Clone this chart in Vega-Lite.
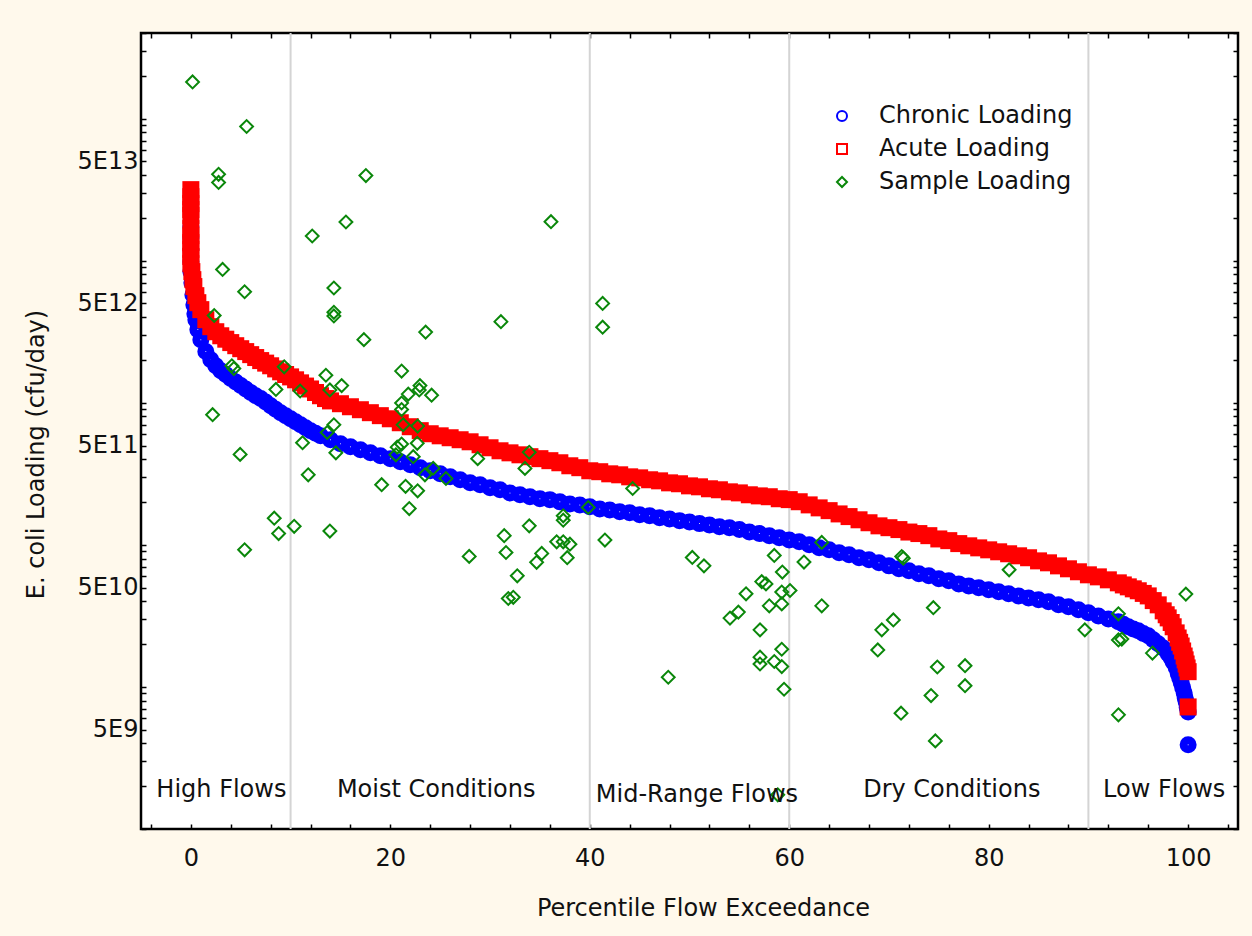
{
  "$schema": "https://vega.github.io/schema/vega-lite/v6.json",
  "width": 1097,
  "height": 796,
  "autosize": {"type": "none"},
  "padding": {"left": 141, "top": 33, "right": 14, "bottom": 107},
  "background": "#FFF9EC",
  "config": {
    "view": {"stroke": "black", "strokeWidth": 2.5, "fill": "white"},
    "font": "DejaVu Sans",
    "axis": {
      "domain": false, "grid": false, "tickColor": "black", "tickWidth": 1.5, "tickSize": -5,
      "labelFont": "DejaVu Sans", "labelFontSize": 24, "labelColor": "#111111",
      "titleFont": "DejaVu Sans", "titleFontSize": 24, "titleFontWeight": "normal", "titleColor": "#111111",
      "labelOverlap": false, "labelFlush": false, "labelLimit": 0
    },
    "legend": {
      "labelFont": "DejaVu Sans", "labelFontSize": 24, "labelColor": "#111111", "labelLimit": 0
    }
  },
  "datasets": {
    "grid": [{"p": 10}, {"p": 40}, {"p": 60}, {"p": 90}],
    "chronic": [
      {"p":0,"v":1.74e13},{"p":0,"v":1.45e13},{"p":0,"v":1.2e13},{"p":0,"v":9.84e12},{"p":0,"v":8.37e12},
      {"p":0.1,"v":7.0e12},{"p":0.2,"v":5.76e12},{"p":0.3,"v":4.9e12},{"p":0.4,"v":4.23e12},{"p":0.5,"v":3.84e12},
      {"p":0.7,"v":3.27e12},{"p":1,"v":2.78e12},{"p":1.5,"v":2.29e12},{"p":2,"v":2.01e12},{"p":2.5,"v":1.82e12},
      {"p":3,"v":1.68e12},{"p":3.5,"v":1.58e12},{"p":4,"v":1.48e12},{"p":4.5,"v":1.4e12},{"p":5,"v":1.32e12},{"p":5.5,"v":1.25e12},{"p":6,"v":1.18e12},{"p":6.5,"v":1.12e12},{"p":7,"v":1.07e12},
      {"p":7.5,"v":1.01e12},{"p":8,"v":9.52e11},{"p":8.5,"v":9.0e11},{"p":9,"v":8.51e11},{"p":9.5,"v":8.1e11},{"p":10,"v":7.71e11},{"p":10.5,"v":7.35e11},{"p":11,"v":7.0e11},{"p":11.5,"v":6.67e11},{"p":12,"v":6.36e11},
      {"p":12.5,"v":6.1e11},{"p":13,"v":5.85e11},{"p":14,"v":5.49e11},{"p":15,"v":5.14e11},{"p":16,"v":4.9e11},{"p":17,"v":4.67e11},
      {"p":18,"v":4.44e11},{"p":19,"v":4.23e11},{"p":20,"v":4.04e11},{"p":21,"v":3.84e11},{"p":22,"v":3.66e11},
      {"p":23,"v":3.49e11},{"p":24,"v":3.32e11},{"p":25,"v":3.16e11},{"p":26,"v":3.01e11},{"p":27,"v":2.87e11},
      {"p":28,"v":2.73e11},{"p":29,"v":2.65e11},{"p":30,"v":2.52e11},{"p":31,"v":2.44e11},{"p":32,"v":2.32e11},
      {"p":33,"v":2.25e11},{"p":34,"v":2.18e11},{"p":35,"v":2.11e11},{"p":36,"v":2.08e11},{"p":37,"v":2.01e11},
      {"p":38,"v":1.94e11},{"p":39,"v":1.91e11},{"p":40,"v":1.85e11},{"p":41,"v":1.79e11},{"p":42,"v":1.76e11},
      {"p":43,"v":1.71e11},{"p":44,"v":1.68e11},{"p":45,"v":1.63e11},{"p":46,"v":1.6e11},{"p":47,"v":1.55e11},
      {"p":48,"v":1.52e11},{"p":49,"v":1.48e11},{"p":50,"v":1.45e11},{"p":51,"v":1.41e11},{"p":52,"v":1.38e11},
      {"p":53,"v":1.34e11},{"p":54,"v":1.32e11},{"p":55,"v":1.28e11},{"p":56,"v":1.23e11},{"p":57,"v":1.2e11},
      {"p":58,"v":1.16e11},{"p":59,"v":1.12e11},{"p":60,"v":1.08e11},{"p":61,"v":1.05e11},{"p":62,"v":1.0e11},
      {"p":63,"v":9.52e10},{"p":64,"v":9.22e10},{"p":65,"v":8.79e10},{"p":66,"v":8.51e10},{"p":67,"v":8.11e10},
      {"p":68,"v":7.85e10},{"p":69,"v":7.47e10},{"p":70,"v":7.11e10},{"p":71,"v":6.78e10},{"p":72,"v":6.57e10},
      {"p":73,"v":6.25e10},{"p":74,"v":6.05e10},{"p":75,"v":5.76e10},{"p":76,"v":5.58e10},{"p":77,"v":5.31e10},
      {"p":78,"v":5.14e10},{"p":79,"v":4.98e10},{"p":80,"v":4.82e10},{"p":81,"v":4.67e10},{"p":82,"v":4.52e10},
      {"p":83,"v":4.37e10},{"p":84,"v":4.23e10},{"p":85,"v":4.1e10},{"p":86,"v":3.97e10},{"p":87,"v":3.78e10},
      {"p":88,"v":3.66e10},{"p":89,"v":3.49e10},{"p":90,"v":3.32e10},{"p":91,"v":3.16e10},{"p":92,"v":3.01e10},
      {"p":93,"v":2.87e10},{"p":93.5,"v":2.76e10},{"p":94,"v":2.65e10},{"p":94.5,"v":2.56e10},{"p":95,"v":2.48e10},{"p":95.5,"v":2.38e10},{"p":96,"v":2.29e10},{"p":96.5,"v":2.15e10},{"p":97,"v":2.01e10},
      {"p":97.5,"v":1.88e10},{"p":98,"v":1.71e10},{"p":98.3,"v":1.6e10},{"p":98.5,"v":1.5e10},{"p":98.8,"v":1.37e10},{"p":99,"v":1.25e10},{"p":99.15,"v":1.16e10},{"p":99.3,"v":1.08e10},{"p":99.45,"v":9.9e9},
      {"p":99.6,"v":9.08e9},{"p":99.7,"v":8.4e9},{"p":99.8,"v":7.85e9},{"p":99.9,"v":7.2e9},{"p":100,"v":6.67e9},{"p":100,"v":3.91e9}
    ],
    "acute": [
      {"p":0,"v":3.16e13},{"p":0,"v":2.82e13},{"p":0,"v":2.52e13},{"p":0,"v":2.29e13},{"p":0,"v":2.08e13},
      {"p":0,"v":1.68e13},{"p":0,"v":1.5e13},{"p":0,"v":1.34e13},{"p":0,"v":1.2e13},{"p":0,"v":1.07e13},{"p":0,"v":9.52e12},
      {"p":0.1,"v":8.37e12},{"p":0.2,"v":7.35e12},{"p":0.3,"v":6.57e12},{"p":0.5,"v":5.67e12},{"p":0.7,"v":5.06e12},
      {"p":1,"v":4.52e12},{"p":1.5,"v":3.84e12},{"p":2,"v":3.43e12},{"p":2.5,"v":3.16e12},{"p":3,"v":2.96e12},
      {"p":3.5,"v":2.8e12},{"p":4,"v":2.65e12},{"p":4.5,"v":2.52e12},{"p":5,"v":2.4e12},{"p":5.5,"v":2.29e12},{"p":6,"v":2.18e12},{"p":6.5,"v":2.08e12},{"p":7,"v":1.98e12},{"p":7.5,"v":1.9e12},{"p":8,"v":1.82e12},
      {"p":8.5,"v":1.73e12},{"p":9,"v":1.65e12},{"p":9.5,"v":1.58e12},{"p":10,"v":1.52e12},{"p":10.5,"v":1.45e12},{"p":11,"v":1.38e12},{"p":11.5,"v":1.31e12},{"p":12,"v":1.25e12},{"p":12.5,"v":1.18e12},{"p":13,"v":1.12e12},
      {"p":13.5,"v":1.07e12},{"p":14,"v":1.03e12},{"p":15,"v":9.84e11},{"p":16,"v":9.37e11},{"p":17,"v":8.93e11},{"p":18,"v":8.51e11},
      {"p":19,"v":8.11e11},{"p":20,"v":7.71e11},{"p":21,"v":7.23e11},{"p":22,"v":6.78e11},{"p":23,"v":6.36e11},
      {"p":24,"v":6.05e11},{"p":25,"v":5.85e11},{"p":26,"v":5.67e11},{"p":27,"v":5.49e11},{"p":28,"v":5.31e11},
      {"p":29,"v":5.06e11},{"p":30,"v":4.82e11},{"p":31,"v":4.59e11},{"p":32,"v":4.44e11},{"p":33,"v":4.3e11},
      {"p":34,"v":4.17e11},{"p":35,"v":4.04e11},{"p":36,"v":3.91e11},{"p":37,"v":3.78e11},{"p":38,"v":3.6e11},
      {"p":39,"v":3.49e11},{"p":40,"v":3.32e11},{"p":41,"v":3.27e11},{"p":42,"v":3.16e11},{"p":43,"v":3.11e11},
      {"p":44,"v":3.01e11},{"p":45,"v":2.96e11},{"p":46,"v":2.87e11},{"p":47,"v":2.82e11},{"p":48,"v":2.73e11},
      {"p":49,"v":2.69e11},{"p":50,"v":2.6e11},{"p":51,"v":2.56e11},{"p":52,"v":2.48e11},{"p":53,"v":2.44e11},
      {"p":54,"v":2.36e11},{"p":55,"v":2.32e11},{"p":56,"v":2.25e11},{"p":57,"v":2.21e11},{"p":58,"v":2.18e11},
      {"p":59,"v":2.11e11},{"p":60,"v":2.08e11},{"p":61,"v":2.01e11},{"p":62,"v":1.91e11},{"p":63,"v":1.82e11},
      {"p":64,"v":1.74e11},{"p":65,"v":1.65e11},{"p":66,"v":1.58e11},{"p":67,"v":1.5e11},{"p":68,"v":1.43e11},
      {"p":69,"v":1.36e11},{"p":70,"v":1.32e11},{"p":71,"v":1.28e11},{"p":72,"v":1.23e11},{"p":73,"v":1.2e11},
      {"p":74,"v":1.16e11},{"p":75,"v":1.1e11},{"p":76,"v":1.07e11},{"p":77,"v":1.02e11},{"p":78,"v":9.84e10},
      {"p":79,"v":9.52e10},{"p":80,"v":9.22e10},{"p":81,"v":8.93e10},{"p":82,"v":8.65e10},{"p":83,"v":8.37e10},
      {"p":84,"v":8.11e10},{"p":85,"v":7.71e10},{"p":86,"v":7.47e10},{"p":87,"v":7.11e10},{"p":88,"v":6.78e10},
      {"p":89,"v":6.46e10},{"p":90,"v":6.15e10},{"p":91,"v":5.95e10},{"p":92,"v":5.67e10},{"p":93,"v":5.4e10},
      {"p":93.5,"v":5.22e10},{"p":94,"v":5.06e10},{"p":94.5,"v":4.9e10},{"p":95,"v":4.75e10},{"p":95.5,"v":4.55e10},{"p":96,"v":4.37e10},{"p":96.5,"v":4.05e10},{"p":97,"v":3.78e10},{"p":97.5,"v":3.43e10},
      {"p":97.8,"v":3.22e10},{"p":98,"v":3.06e10},{"p":98.3,"v":2.84e10},{"p":98.5,"v":2.65e10},{"p":98.8,"v":2.4e10},{"p":99,"v":2.21e10},{"p":99.15,"v":2.06e10},{"p":99.3,"v":1.94e10},{"p":99.45,"v":1.79e10},{"p":99.6,"v":1.65e10},
      {"p":99.7,"v":1.55e10},{"p":99.8,"v":1.45e10},{"p":99.9,"v":1.36e10},{"p":100,"v":1.28e10},{"p":100,"v":7.23e9}
    ],
    "samples": [
      {"p":0.17,"v":1.81e14},{"p":5.59,"v":8.79e13},{"p":2.78,"v":4.05e13},{"p":2.78,"v":3.55e13},{"p":12.17,"v":1.49e13},
      {"p":3.18,"v":8.67e12},{"p":5.39,"v":6.04e12},{"p":2.34,"v":4.11e12},{"p":4.11,"v":1.82e12},{"p":4.31,"v":1.74e12},
      {"p":9.36,"v":1.79e12},{"p":8.53,"v":1.24e12},{"p":10.96,"v":1.21e12},{"p":2.18,"v":8.24e11},{"p":11.2,"v":5.23e11},
      {"p":4.94,"v":4.33e11},{"p":11.77,"v":3.11e11},{"p":8.36,"v":1.54e11},{"p":8.8,"v":1.2e11},{"p":10.36,"v":1.35e11},
      {"p":5.39,"v":9.22e10},{"p":17.55,"v":3.97e13},{"p":15.55,"v":1.87e13},{"p":14.34,"v":6.42e12},{"p":14.34,"v":4.33e12},
      {"p":14.34,"v":4.08e12},{"p":17.35,"v":2.78e12},{"p":23.54,"v":3.14e12},{"p":31.09,"v":3.72e12},{"p":21.13,"v":1.67e12},
      {"p":13.54,"v":1.56e12},{"p":15.12,"v":1.32e12},{"p":13.94,"v":1.23e12},{"p":22.97,"v":1.32e12},{"p":22.9,"v":1.23e12},
      {"p":21.8,"v":1.15e12},{"p":24.14,"v":1.13e12},{"p":21.13,"v":9.95e11},{"p":21.13,"v":8.95e11},{"p":14.34,"v":7.0e11},
      {"p":13.67,"v":6.17e11},{"p":21.29,"v":7.0e11},{"p":22.74,"v":6.85e11},{"p":22.7,"v":5.18e11},{"p":21.13,"v":5.12e11},
      {"p":20.69,"v":4.87e11},{"p":20.56,"v":4.3e11},{"p":22.3,"v":4.17e11},{"p":14.54,"v":4.44e11},{"p":24.3,"v":3.46e11},
      {"p":23.47,"v":3.11e11},{"p":25.58,"v":2.93e11},{"p":28.76,"v":4.04e11},{"p":19.13,"v":2.65e11},{"p":21.53,"v":2.58e11},
      {"p":22.74,"v":2.4e11},{"p":21.9,"v":1.8e11},{"p":13.94,"v":1.25e11},{"p":27.91,"v":8.29e10},{"p":31.42,"v":1.16e11},
      {"p":31.6,"v":8.83e10},{"p":31.83,"v":4.19e10},{"p":36.11,"v":1.88e13},{"p":41.29,"v":5.0e12},{"p":41.29,"v":3.4e12},
      {"p":33.93,"v":4.48e11},{"p":33.5,"v":3.45e11},{"p":44.3,"v":2.49e11},{"p":39.85,"v":1.83e11},{"p":37.34,"v":1.6e11},
      {"p":37.34,"v":1.49e11},{"p":33.93,"v":1.36e11},{"p":41.52,"v":1.08e11},{"p":36.68,"v":1.05e11},{"p":37.34,"v":1.05e11},
      {"p":38.01,"v":1.01e11},{"p":35.18,"v":8.7e10},{"p":34.67,"v":7.53e10},{"p":37.74,"v":8.12e10},{"p":32.73,"v":6.05e10},
      {"p":32.33,"v":4.27e10},{"p":47.87,"v":1.17e10},{"p":50.28,"v":8.15e10},{"p":51.45,"v":7.11e10},{"p":58.5,"v":8.42e10},
      {"p":59.31,"v":6.43e10},{"p":61.48,"v":7.56e10},{"p":63.26,"v":1.04e11},{"p":57.24,"v":5.51e10},{"p":57.67,"v":5.31e10},
      {"p":55.67,"v":4.52e10},{"p":59.25,"v":4.65e10},{"p":60.08,"v":4.77e10},{"p":58.0,"v":3.72e10},{"p":59.25,"v":3.84e10},
      {"p":63.26,"v":3.72e10},{"p":54.9,"v":3.36e10},{"p":54.06,"v":3.05e10},{"p":57.07,"v":2.52e10},{"p":59.25,"v":1.84e10},
      {"p":57.07,"v":1.62e10},{"p":57.07,"v":1.45e10},{"p":58.5,"v":1.51e10},{"p":59.25,"v":1.39e10},{"p":59.48,"v":9.63e9},
      {"p":58.85,"v":1.74e9},{"p":71.28,"v":8.28e10},{"p":71.44,"v":8.06e10},{"p":82.05,"v":6.67e10},{"p":74.45,"v":3.61e10},
      {"p":70.44,"v":2.96e10},{"p":69.28,"v":2.52e10},{"p":68.88,"v":1.82e10},{"p":74.85,"v":1.38e10},{"p":77.63,"v":1.41e10},
      {"p":77.63,"v":1.02e10},{"p":74.22,"v":8.69e9},{"p":71.21,"v":6.53e9},{"p":74.65,"v":4.17e9},{"p":99.77,"v":4.5e10},
      {"p":93.01,"v":3.27e10},{"p":89.64,"v":2.52e10},{"p":93.01,"v":2.14e10},{"p":93.35,"v":2.17e10},{"p":96.42,"v":1.73e10},
      {"p":93.01,"v":6.36e9}
    ],
    "regions": [
      {"p":3.06,"v":1.88e9,"t":"High Flows"},
      {"p":24.6,"v":1.88e9,"t":"Moist Conditions"},
      {"p":50.75,"v":1.74e9,"t":"Mid-Range Flows"},
      {"p":76.3,"v":1.88e9,"t":"Dry Conditions"},
      {"p":97.6,"v":1.88e9,"t":"Low Flows"}
    ]
  },
  "resolve": {"axis": {"x": "independent", "y": "independent"}},
  "layer": [
    {
      "data": {"name": "grid"},
      "mark": {"type": "rule", "color": "#D4D4D4", "strokeWidth": 2},
      "encoding": {
        "x": {"field": "p", "type": "quantitative",
              "scale": {"domain": [-5, 105], "nice": false, "zero": false},
              "axis": {"orient": "top", "labels": false, "title": null,
                       "values": [-4,0,4,8,12,16,20,24,28,32,36,40,44,48,52,56,60,64,68,72,76,80,84,88,92,96,100,104]}}
      }
    },
    {
      "data": {"name": "chronic"},
      "mark": {"type": "point", "filled": false, "strokeWidth": 9, "size": 64, "opacity": 1},
      "encoding": {
        "x": {"field": "p", "type": "quantitative",
              "scale": {"domain": [-5, 105], "nice": false, "zero": false},
              "axis": {"orient": "bottom", "title": "Percentile Flow Exceedance",
                       "values": [-4,0,4,8,12,16,20,24,28,32,36,40,44,48,52,56,60,64,68,72,76,80,84,88,92,96,100,104],
                       "labelExpr": "datum.value % 20 == 0 ? format(datum.value, 'd') : ''",
                       "labelPadding": 22, "titleX": 562, "titleY": 79, "titleBaseline": "middle", "titleAlign": "center"}},
        "y": {"field": "v", "type": "quantitative",
              "scale": {"type": "log", "domain": [1e9, 4e14], "nice": false},
              "axis": {"orient": "left", "title": "E. coli Loading (cfu/day)",
                       "values": [1e9,2e9,3e9,4e9,5e9,6e9,7e9,8e9,9e9,1e10,2e10,3e10,4e10,5e10,6e10,7e10,8e10,9e10,1e11,2e11,3e11,4e11,5e11,6e11,7e11,8e11,9e11,1e12,2e12,3e12,4e12,5e12,6e12,7e12,8e12,9e12,1e13,2e13,3e13,4e13,5e13,6e13,7e13,8e13,9e13,1e14,2e14,3e14,4e14],
                       "labelExpr": "abs(datum.value / pow(10, floor(log(datum.value)/LN10 + 1e-9)) - 5) < 0.01 ? '5E' + floor(log(datum.value)/LN10 + 1e-9) : ''",
                       "labelPadding": 8, "titleX": -105, "titleY": 421, "titleAngle": -90, "titleAlign": "center", "titleBaseline": "middle"}},
        "color": {"datum": "Chronic Loading", "type": "nominal",
                  "scale": {"domain": ["Chronic Loading", "Acute Loading", "Sample Loading"], "range": ["#0000FF", "#FF0000", "#0A870A"]},
                  "legend": {"orient": "none", "legendX": 689, "legendY": 71, "title": null, "padding": 0, "symbolSize": 100, "symbolStrokeWidth": 2, "labelOffset": 25, "rowPadding": 9, "labelLimit": 0}},
        "shape": {"datum": "Chronic Loading", "type": "nominal",
                  "scale": {"domain": ["Chronic Loading", "Acute Loading", "Sample Loading"], "range": ["circle", "square", "diamond"]},
                  "legend": {"orient": "none", "legendX": 689, "legendY": 71, "title": null, "padding": 0, "symbolSize": 100, "symbolStrokeWidth": 2, "labelOffset": 25, "rowPadding": 9, "labelLimit": 0}}
      }
    },
    {
      "data": {"name": "acute"},
      "mark": {"type": "point", "filled": false, "strokeWidth": 9, "size": 64, "opacity": 1},
      "encoding": {
        "x": {"field": "p", "type": "quantitative", "scale": {"domain": [-5, 105], "nice": false, "zero": false}, "axis": null},
        "y": {"field": "v", "type": "quantitative", "scale": {"type": "log", "domain": [1e9, 4e14], "nice": false}, "axis": null},
        "color": {"datum": "Acute Loading", "type": "nominal"},
        "shape": {"datum": "Acute Loading", "type": "nominal"}
      }
    },
    {
      "data": {"name": "samples"},
      "mark": {"type": "point", "filled": false, "strokeWidth": 2, "size": 165, "opacity": 1},
      "encoding": {
        "x": {"field": "p", "type": "quantitative", "scale": {"domain": [-5, 105], "nice": false, "zero": false}, "axis": null},
        "y": {"field": "v", "type": "quantitative", "scale": {"type": "log", "domain": [1e9, 4e14], "nice": false}, "axis": null},
        "color": {"datum": "Sample Loading", "type": "nominal"},
        "shape": {"datum": "Sample Loading", "type": "nominal"}
      }
    },
    {
      "data": {"name": "regions"},
      "mark": {"type": "text", "font": "DejaVu Sans", "fontSize": 24, "color": "#111111", "align": "center", "baseline": "middle"},
      "encoding": {
        "x": {"field": "p", "type": "quantitative", "scale": {"domain": [-5, 105], "nice": false, "zero": false}, "axis": null},
        "y": {"field": "v", "type": "quantitative", "scale": {"type": "log", "domain": [1e9, 4e14], "nice": false},
              "axis": {"orient": "right", "labels": false, "title": null,
                       "values": [1e9,2e9,3e9,4e9,5e9,6e9,7e9,8e9,9e9,1e10,2e10,3e10,4e10,5e10,6e10,7e10,8e10,9e10,1e11,2e11,3e11,4e11,5e11,6e11,7e11,8e11,9e11,1e12,2e12,3e12,4e12,5e12,6e12,7e12,8e12,9e12,1e13,2e13,3e13,4e13,5e13,6e13,7e13,8e13,9e13,1e14,2e14,3e14,4e14]}},
        "text": {"field": "t"}
      }
    }
  ]
}
